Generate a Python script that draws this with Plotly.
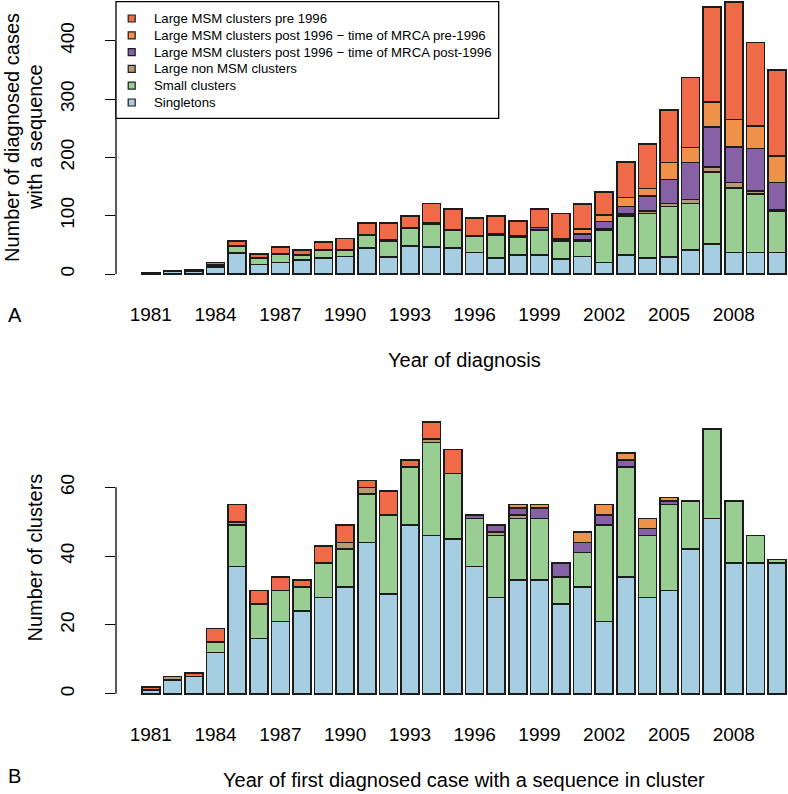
import plotly.graph_objects as go

years = list(range(1981, 2011))
tick_years = years[::3]

series_names = [
    "Singletons",
    "Small clusters",
    "Large non MSM clusters",
    "Large MSM clusters post 1996 \u2212 time of MRCA post-1996",
    "Large MSM clusters post 1996 \u2212 time of MRCA pre-1996",
    "Large MSM clusters pre 1996",
]
series_colors = ["#A6CEE3", "#98CE92", "#B59A77", "#8661A5", "#EF9148", "#EF6A47"]

# Panel A: number of diagnosed cases with a sequence
cases_singletons = [1, 4, 5, 12, 36, 16, 20, 24, 27, 30, 45, 29, 48, 46, 45, 37, 27, 33, 33, 26, 30, 20, 33, 27, 29, 41, 51, 37, 37, 37]
cases_small = [0, 1, 2, 3, 11, 11, 14, 8, 14, 10, 21, 27, 31, 40, 30, 27, 40, 30, 42, 30, 27, 55, 67, 77, 87, 80, 124, 111, 100, 70]
cases_nonmsm = [0, 0, 0, 1, 1, 1, 0, 1, 1, 1, 2, 2, 1, 1, 1, 2, 2, 2, 1, 2, 2, 2, 3, 4, 5, 7, 9, 9, 5, 3]
cases_post_post = [0] * 17 + [1, 4, 3, 10, 13, 13, 26, 41, 63, 68, 61, 73, 47]
cases_post_pre = [0] * 20 + [8, 11, 15, 13, 29, 26, 43, 47, 39, 45]
cases_pre = [1, 0, 0, 4, 9, 6, 12, 8, 13, 20, 19, 30, 19, 34, 35, 30, 31, 25, 31, 43, 43, 40, 61, 76, 90, 120, 163, 202, 143, 148]

# Panel B: number of clusters
cl_singletons = [1, 4, 5, 12, 37, 16, 21, 24, 28, 31, 44, 29, 49, 46, 45, 37, 28, 33, 33, 26, 31, 21, 34, 28, 30, 42, 51, 38, 38, 38]
cl_small = [0, 0, 0, 3, 12, 10, 9, 7, 10, 11, 14, 23, 17, 27, 19, 14, 18, 18, 18, 8, 10, 28, 32, 18, 25, 14, 26, 18, 8, 1]
cl_nonmsm = [0, 1, 0, 0, 1, 0, 0, 0, 0, 2, 2, 0, 0, 1, 0, 0, 1, 1, 0, 0, 0, 0, 0, 0, 0, 0, 0, 0, 0, 0]
cl_post_post = [0] * 15 + [1, 2, 2, 3, 4, 3, 3, 2, 2, 1] + [0] * 5
cl_post_pre = [0] * 17 + [1, 1, 0, 3, 3, 2, 3, 1] + [0] * 5
cl_pre = [1, 0, 1, 4, 5, 4, 4, 2, 5, 5, 2, 7, 2, 5, 7] + [0] * 15

legend_order = [
    "Large MSM clusters pre 1996",
    "Large MSM clusters post 1996 \u2212 time of MRCA pre-1996",
    "Large MSM clusters post 1996 \u2212 time of MRCA post-1996",
    "Large non MSM clusters",
    "Small clusters",
    "Singletons",
]

W, H = 788, 794
FONT = "Liberation Sans, Arial, Helvetica, sans-serif"


def px_x(p):
    return p / W


def px_y(p):
    return 1 - p / H


fig = go.Figure()
top_data = [cases_singletons, cases_small, cases_nonmsm, cases_post_post, cases_post_pre, cases_pre]
bot_data = [cl_singletons, cl_small, cl_nonmsm, cl_post_post, cl_post_pre, cl_pre]
for vals_list, xa, ya in [(top_data, "x", "y"), (bot_data, "x2", "y2")]:
    for name, vals, col in zip(series_names, vals_list, series_colors):
        fig.add_trace(go.Bar(
            x=years, y=vals, name=name, width=1 / 1.2,
            marker=dict(color=col, line=dict(color="#1c1c1c", width=1.6)),
            xaxis=xa, yaxis=ya, showlegend=False,
        ))

x_dom = [px_x(116), 1]
x_range = [1979.39, 2010.51]
common_x = dict(range=x_range, domain=x_dom, showgrid=False, zeroline=False, showline=False,
                ticks="", tickvals=tick_years, ticktext=[str(y) for y in tick_years],
                tickfont=dict(size=19, color="black", family=FONT), ticklabelstandoff=16)
common_y = dict(showgrid=False, zeroline=False, showline=False, ticks="outside", ticklen=10,
                tickwidth=1.3, tickcolor="black", tickangle=-90,
                tickfont=dict(size=19, color="black", family=FONT), ticklabelstandoff=23)

fig.update_layout(
    width=W, height=H, margin=dict(l=0, r=0, t=0, b=0),
    paper_bgcolor="white", plot_bgcolor="white", barmode="stack",
    font=dict(family=FONT, color="black"),
    xaxis=dict(anchor="y", **common_x),
    yaxis=dict(anchor="x", domain=[px_y(284.9), 1], range=[-18.7, 470],
               tickvals=[0, 100, 200, 300, 400], **common_y),
    xaxis2=dict(anchor="y2", **common_x),
    yaxis2=dict(anchor="x2", domain=[px_y(704.6), px_y(411)], range=[-3.17, 82.2],
                tickvals=[0, 20, 40, 60], **common_y),
)

shapes = [
    dict(type="line", xref="paper", yref="y", x0=px_x(116), x1=px_x(116), y0=0, y1=400,
         line=dict(color="black", width=1.3)),
    dict(type="line", xref="paper", yref="y2", x0=px_x(116), x1=px_x(116), y0=0, y1=60,
         line=dict(color="black", width=1.3)),
    dict(type="rect", xref="paper", yref="paper", x0=px_x(116), x1=px_x(498.7),
         y0=px_y(118.3), y1=px_y(1.7), line=dict(color="black", width=1.3), fillcolor="white"),
]
annotations = []
color_of = dict(zip(series_names, series_colors))
for i, lab in enumerate(legend_order):
    yc = 18.5 + 16.8 * i
    shapes.append(dict(type="rect", xref="paper", yref="paper",
                       x0=px_x(128.2), x1=px_x(135.2), y0=px_y(yc + 3.5), y1=px_y(yc - 3.5),
                       fillcolor=color_of[lab], line=dict(color="#1c1c1c", width=1.2)))
    annotations.append(dict(text=lab, xref="paper", yref="paper", x=px_x(151.7), y=px_y(yc),
                            xanchor="left", yanchor="middle", showarrow=False,
                            font=dict(size=13.2, color="black", family=FONT)))

title_font = dict(size=20, color="black", family=FONT)
annotations += [
    dict(text="Number of diagnosed cases", x=px_x(11.5), y=px_y(137.5), textangle=-90),
    dict(text="with a sequence", x=px_x(34.5), y=px_y(137.5), textangle=-90),
    dict(text="Number of clusters", x=px_x(34.5), y=px_y(558), textangle=-90),
    dict(text="Year of diagnosis", x=px_x(464), y=px_y(360)),
    dict(text="Year of first diagnosed case with a sequence in cluster", x=px_x(464), y=px_y(779.5)),
    dict(text="A", x=px_x(15), y=px_y(314.5)),
    dict(text="B", x=px_x(14), y=px_y(775.5)),
]
for a in annotations[-7:]:
    a.update(xref="paper", yref="paper", xanchor="center", yanchor="middle",
             showarrow=False, font=title_font)

fig.update_layout(shapes=shapes, annotations=annotations)
fig.write_html("out.html", config={"displayModeBar": False},
               post_script="document.body.style.margin='0';document.body.style.overflow='hidden';")
